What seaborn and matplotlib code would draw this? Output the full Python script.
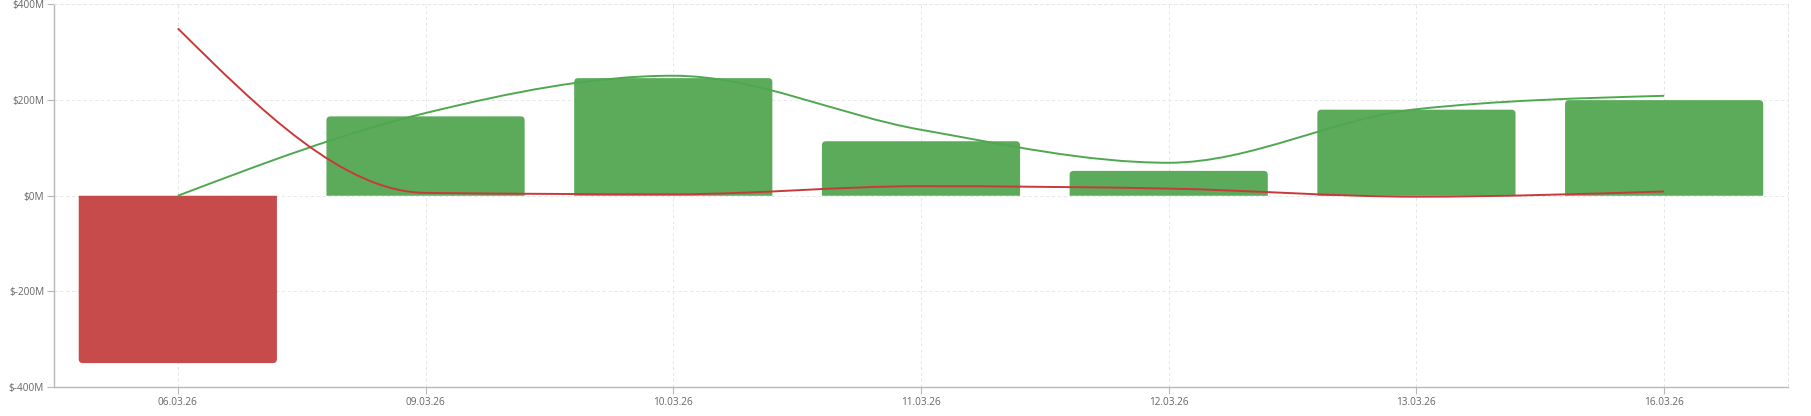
import numpy as np
import pandas as pd
import seaborn as sns
import matplotlib.pyplot as plt
from matplotlib.patches import PathPatch
from matplotlib.path import Path
from matplotlib.ticker import FuncFormatter

# data (values in $M)
dates = ["06.03.26", "09.03.26", "10.03.26", "11.03.26", "12.03.26", "13.03.26", "16.03.26"]
net_flow = [-350, 166, 246, 114, 52, 180, 200]
green_trend = [0, 173, 251, 138, 69, 181, 209]
red_trend = [350, 6, 3, 20, 15, -2, 9]

GREEN = "#5bab5b"
RED = "#c84b4b"
GREEN_LINE = "#4fa84f"
RED_LINE = "#c83a3a"


def monotone_path(xs, ys):
    # cubic bezier path like d3.curveMonotoneX
    xs = np.asarray(xs, float)
    ys = np.asarray(ys, float)
    n = len(xs)
    h = np.diff(xs)
    s = np.diff(ys) / h
    t = np.zeros(n)
    for i in range(1, n - 1):
        if s[i - 1] * s[i] <= 0:
            t[i] = 0
        else:
            p = (s[i - 1] * h[i] + s[i] * h[i - 1]) / (h[i - 1] + h[i])
            t[i] = (np.sign(s[i - 1]) + np.sign(s[i])) * min(abs(s[i - 1]), abs(s[i]), 0.5 * abs(p))
    t[0] = (3 * s[0] - t[1]) / 2 if n > 2 else s[0]
    t[-1] = (3 * s[-1] - t[-2]) / 2 if n > 2 else s[-1]
    verts = [(xs[0], ys[0])]
    codes = [Path.MOVETO]
    for i in range(n - 1):
        dx = h[i] / 3
        verts += [(xs[i] + dx, ys[i] + dx * t[i]),
                  (xs[i + 1] - dx, ys[i + 1] - dx * t[i + 1]),
                  (xs[i + 1], ys[i + 1])]
        codes += [Path.CURVE4] * 3
    return Path(verts, codes)


def rounded_bar(x0, w, base, end, rx, ry):
    # rectangle with the two corners at the far end rounded
    x1 = x0 + w
    d = np.sign(end - base)
    ry = min(ry, abs(end - base) / 2) * d
    verts = [(x0, base), (x0, end - ry), (x0, end), (x0 + rx, end),
             (x1 - rx, end), (x1, end), (x1, end - ry), (x1, base), (x0, base)]
    codes = [Path.MOVETO, Path.LINETO, Path.CURVE3, Path.CURVE3,
             Path.LINETO, Path.CURVE3, Path.CURVE3, Path.LINETO, Path.CLOSEPOLY]
    return Path(verts, codes)


sns.set_style("white")
plt.rcParams["font.family"] = ["Open Sans", "DejaVu Sans"]

df = pd.DataFrame({"date": dates, "value": net_flow})
df["sign"] = np.where(df["value"] < 0, "neg", "pos")

fig = plt.figure(figsize=(18.11, 4.16), dpi=100)
ax = fig.add_axes([0.0298, 0.0697, 0.9575, 0.9195])

sns.barplot(data=df, x="date", y="value", hue="sign", palette={"neg": RED, "pos": GREEN},
            width=0.8, dodge=False, legend=False, saturation=1, ax=ax, zorder=2)

ax.set_ylim(-400, 400)
ax.set_xlim(-0.5, len(dates) - 0.5)

# swap seaborn's square bars for ones with rounded far corners
rad_x = 4 / 247.7
rad_y = 4 / (191 / 400)
for p in list(ax.patches):
    h = p.get_height()
    if abs(h) < 1e-9:
        continue
    y0 = p.get_y()
    col = p.get_facecolor()
    ax.add_patch(PathPatch(rounded_bar(p.get_x(), p.get_width(), y0, y0 + h, rad_x, rad_y),
                           facecolor=col, edgecolor="none", zorder=2))
    p.set_visible(False)

xpos = np.arange(len(dates))
ax.add_patch(PathPatch(monotone_path(xpos, green_trend), facecolor="none",
                       edgecolor=GREEN_LINE, lw=1.4, zorder=3))
ax.add_patch(PathPatch(monotone_path(xpos, red_trend), facecolor="none",
                       edgecolor=RED_LINE, lw=1.4, zorder=3))

ax.set_yticks([-400, -200, 0, 200, 400])
ax.yaxis.set_major_formatter(FuncFormatter(lambda v, _: f"${int(v)}M"))
ax.set_xlabel("")
ax.set_ylabel("")

ax.grid(True, color="#e6e6e6", linestyle=(0, (3, 3)), linewidth=0.7, zorder=0)
ax.set_axisbelow(True)

for side in ["top", "right"]:
    ax.spines[side].set_visible(True)
    ax.spines[side].set_color("#e6e6e6")
    ax.spines[side].set_linestyle((0, (3, 3)))
    ax.spines[side].set_linewidth(0.7)
ax.spines["left"].set_color("#b8b8b8")
ax.spines["bottom"].set_color("#b8b8b8")
ax.spines["left"].set_linewidth(1.0)
ax.spines["bottom"].set_linewidth(1.0)

ax.tick_params(axis="both", which="both", length=5, width=0.8, color="#b8b8b8",
               labelsize=7.2, labelcolor="#666666", pad=2, left=True, bottom=True)

fig.savefig("out.png", dpi=100)
